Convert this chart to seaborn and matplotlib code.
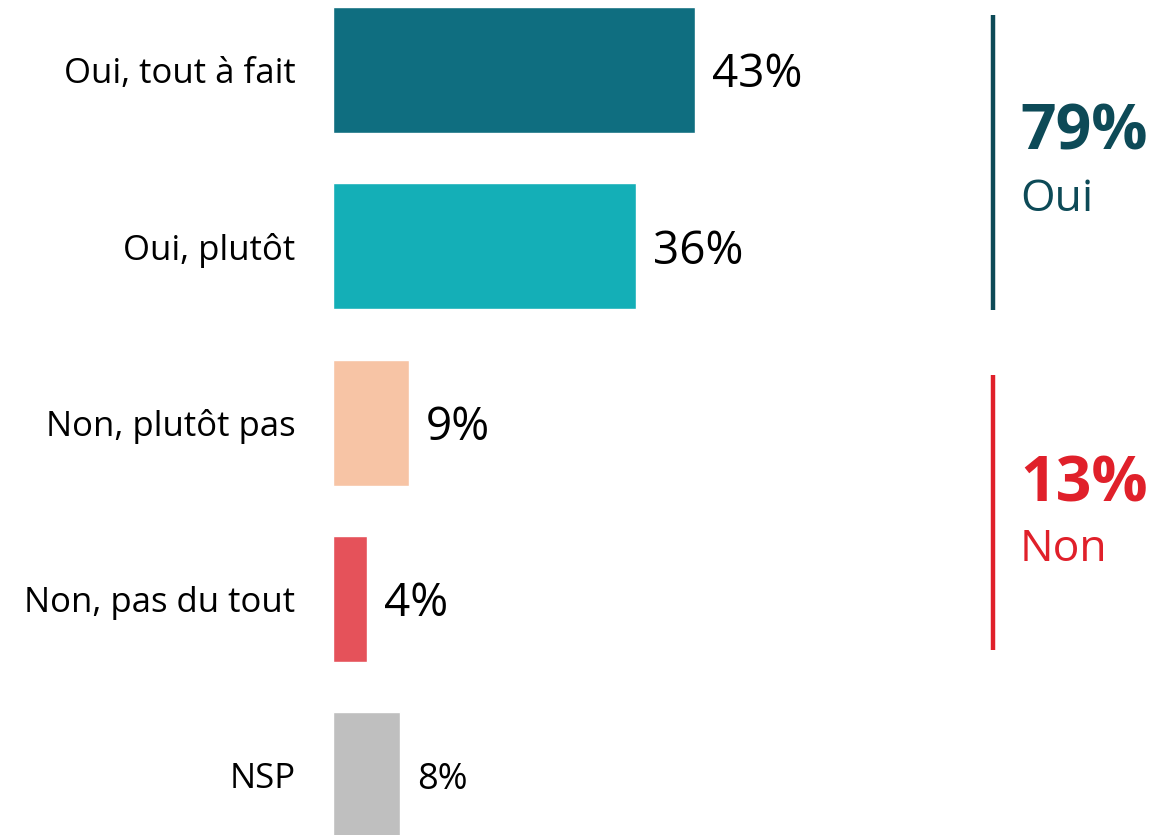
import numpy as np
import pandas as pd
import matplotlib
matplotlib.use("Agg")
import matplotlib.pyplot as plt
import seaborn as sns

categories = ["Oui, tout à fait", "Oui, plutôt", "Non, plutôt pas", "Non, pas du tout", "NSP"]
values = [43, 36, 9, 4, 8]
colors = ["#0F6E80", "#14AFB7", "#F7C4A5", "#E5525A", "#BFBFBF"]
label_sizes = [33, 33, 33, 33, 26]

groups = ["Oui", "Non"]
group_totals = [79, 13]
group_colors = ["#0D4A57", "#E0202A"]

sns.set_style("white")
plt.rcParams["font.family"] = ["Open Sans", "DejaVu Sans"]

df = pd.DataFrame({"cat": categories, "val": values})

fig = plt.figure(figsize=(11.56, 8.35), dpi=100)
ax = fig.add_axes([333 / 1156, 0, 1 - 333 / 1156, 1])

sns.barplot(data=df, x="val", y="cat", hue="cat", palette=colors, orient="h",
            width=0.715, legend=False, ax=ax, saturation=1)

px = 8.43  # pixels per percentage point
ax.set_xlim(0, (1156 - 333) / px)
ax.set_ylim(4.34, -0.397)

for i, v in enumerate(values):
    ax.text(v + 2, i + 0.03, f"{v}%", va="center", ha="left", fontsize=label_sizes[i], color="black")

ax.set_xlabel("")
ax.set_ylabel("")
ax.set_xticks([])
ax.tick_params(axis="y", length=0, pad=27, labelsize=25)
for lab in ax.get_yticklabels():
    lab.set_color("black")
sns.despine(ax=ax, left=True, bottom=True)

# group brackets on the right
def to_idx(ypx):
    return (ypx - 70) / 176.3

xline = (993 - 333) / px
xtext = (1020 - 333) / px
spans = [(15, 310), (375, 650)]
total_y = [133, 485]
name_y = [200, 550]
for g, tot, c, (y0, y1), ty, ny in zip(groups, group_totals, group_colors, spans, total_y, name_y):
    ax.plot([xline, xline], [to_idx(y0), to_idx(y1)], color=c, lw=3.2, clip_on=False,
            solid_capstyle="butt")
    ax.text(xtext, to_idx(ty), f"{tot}%", color=c, fontsize=45, fontweight="bold",
            va="center", ha="left")
    ax.text(xtext, to_idx(ny), g, color=c, fontsize=32, va="center", ha="left")

fig.savefig("out.png", dpi=100)
